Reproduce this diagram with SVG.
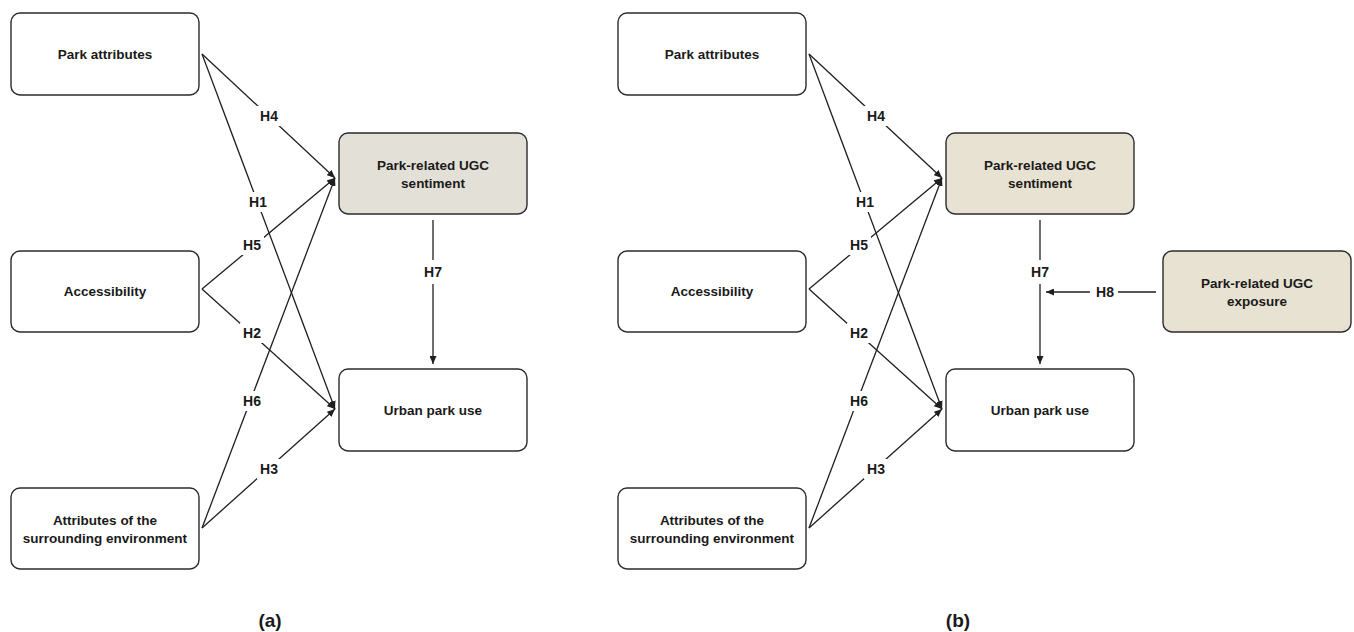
<svg xmlns="http://www.w3.org/2000/svg" width="1354" height="632" viewBox="0 0 1354 632">
<style>
.box{fill:#ffffff;stroke:#2b2b2b;stroke-width:1.4}
.shade-a{fill:#e2e0d7}
.shade-b{fill:#e7e2d2}
.t{font-family:"Liberation Sans",Arial,sans-serif;font-size:13.5px;font-weight:bold;fill:#1a1a1a;text-anchor:middle;dominant-baseline:central}
.lbl{font-family:"Liberation Sans",Arial,sans-serif;font-size:14px;font-weight:bold;fill:#1a1a1a;text-anchor:middle;dominant-baseline:central}
.cap{font-family:"Liberation Sans",Arial,sans-serif;font-size:19px;font-weight:bold;fill:#1a1a1a;text-anchor:middle;dominant-baseline:central}
.ln{stroke:#1f1f1f;stroke-width:1.3;fill:none}
.arr{marker-end:url(#ah)}
.bg{fill:#ffffff}
</style>
<defs>
<marker id="ah" markerUnits="userSpaceOnUse" markerWidth="8" markerHeight="7" refX="8" refY="3.5" orient="auto">
<path d="M0,0 L8,3.5 L0,7 z" fill="#1f1f1f"/>
</marker>
</defs>
<rect width="1354" height="632" fill="#ffffff"/>

<!-- Connectors panel (a) -->
<g id="connectors-a">
<line class="ln arr" x1="202" y1="54" x2="335" y2="178"/>
<line class="ln arr" x1="202" y1="54" x2="335" y2="409"/>
<line class="ln arr" x1="202" y1="289" x2="335" y2="178"/>
<line class="ln arr" x1="202" y1="289" x2="335" y2="409"/>
<line class="ln arr" x1="202" y1="528" x2="335" y2="178"/>
<line class="ln arr" x1="202" y1="528" x2="335" y2="409"/>
<line class="ln arr" x1="433" y1="220" x2="433" y2="364"/>
<rect class="bg" x="257" y="106" width="24" height="20"/><text class="lbl" x="269" y="116">H4</text>
<rect class="bg" x="246" y="192" width="24" height="20"/><text class="lbl" x="258" y="202">H1</text>
<rect class="bg" x="240" y="235" width="24" height="20"/><text class="lbl" x="252" y="245">H5</text>
<rect class="bg" x="240" y="323" width="24" height="20"/><text class="lbl" x="252" y="333">H2</text>
<rect class="bg" x="240" y="391" width="24" height="20"/><text class="lbl" x="252" y="401">H6</text>
<rect class="bg" x="257" y="459" width="24" height="20"/><text class="lbl" x="269" y="469">H3</text>
<rect class="bg" x="421" y="260" width="24" height="24"/><text class="lbl" x="433" y="272">H7</text>
</g>

<!-- Connectors panel (b) -->
<g id="connectors-b">
<line class="ln arr" x1="809" y1="54" x2="942" y2="178"/>
<line class="ln arr" x1="809" y1="54" x2="942" y2="409"/>
<line class="ln arr" x1="809" y1="289" x2="942" y2="178"/>
<line class="ln arr" x1="809" y1="289" x2="942" y2="409"/>
<line class="ln arr" x1="809" y1="528" x2="942" y2="178"/>
<line class="ln arr" x1="809" y1="528" x2="942" y2="409"/>
<line class="ln arr" x1="1040" y1="220" x2="1040" y2="364"/>
<line class="ln arr" x1="1156" y1="292" x2="1046" y2="292"/>
<rect class="bg" x="864" y="106" width="24" height="20"/><text class="lbl" x="876" y="116">H4</text>
<rect class="bg" x="853" y="192" width="24" height="20"/><text class="lbl" x="865" y="202">H1</text>
<rect class="bg" x="847" y="235" width="24" height="20"/><text class="lbl" x="859" y="245">H5</text>
<rect class="bg" x="847" y="323" width="24" height="20"/><text class="lbl" x="859" y="333">H2</text>
<rect class="bg" x="847" y="391" width="24" height="20"/><text class="lbl" x="859" y="401">H6</text>
<rect class="bg" x="864" y="459" width="24" height="20"/><text class="lbl" x="876" y="469">H3</text>
<rect class="bg" x="1028" y="260" width="24" height="24"/><text class="lbl" x="1040" y="272">H7</text>
<rect class="bg" x="1090" y="282" width="28" height="20"/><text class="lbl" x="1105" y="292">H8</text>
</g>

<!-- Panel (a) nodes -->
<g id="a-park-attributes">
<rect class="box" x="11" y="13" width="188" height="82" rx="9"/>
<text class="t" x="105" y="54">Park attributes</text>
</g>
<g id="a-accessibility">
<rect class="box" x="11" y="251" width="188" height="81" rx="9"/>
<text class="t" x="105" y="291">Accessibility</text>
</g>
<g id="a-surrounding">
<rect class="box" x="11" y="488" width="188" height="81" rx="9"/>
<text class="t" x="105" y="520">Attributes of the</text>
<text class="t" x="105" y="538">surrounding environment</text>
</g>
<g id="a-ugc-sentiment">
<rect class="box shade-a" x="339" y="133" width="188" height="81" rx="9"/>
<text class="t" x="433" y="165">Park-related UGC</text>
<text class="t" x="433" y="183">sentiment</text>
</g>
<g id="a-urban-park-use">
<rect class="box" x="339" y="369" width="188" height="82" rx="9"/>
<text class="t" x="433" y="410">Urban park use</text>
</g>

<!-- Panel (b) nodes -->
<g id="b-park-attributes">
<rect class="box" x="618" y="13" width="188" height="82" rx="9"/>
<text class="t" x="712" y="54">Park attributes</text>
</g>
<g id="b-accessibility">
<rect class="box" x="618" y="251" width="188" height="81" rx="9"/>
<text class="t" x="712" y="291">Accessibility</text>
</g>
<g id="b-surrounding">
<rect class="box" x="618" y="488" width="188" height="81" rx="9"/>
<text class="t" x="712" y="520">Attributes of the</text>
<text class="t" x="712" y="538">surrounding environment</text>
</g>
<g id="b-ugc-sentiment">
<rect class="box shade-b" x="946" y="133" width="188" height="81" rx="9"/>
<text class="t" x="1040" y="165">Park-related UGC</text>
<text class="t" x="1040" y="183">sentiment</text>
</g>
<g id="b-urban-park-use">
<rect class="box" x="946" y="369" width="188" height="82" rx="9"/>
<text class="t" x="1040" y="410">Urban park use</text>
</g>
<g id="b-ugc-exposure">
<rect class="box shade-b" x="1163" y="251" width="188" height="81" rx="9"/>
<text class="t" x="1257" y="283">Park-related UGC</text>
<text class="t" x="1257" y="301">exposure</text>
</g>

<text class="cap" x="270" y="620">(a)</text>
<text class="cap" x="958" y="620">(b)</text>
</svg>
